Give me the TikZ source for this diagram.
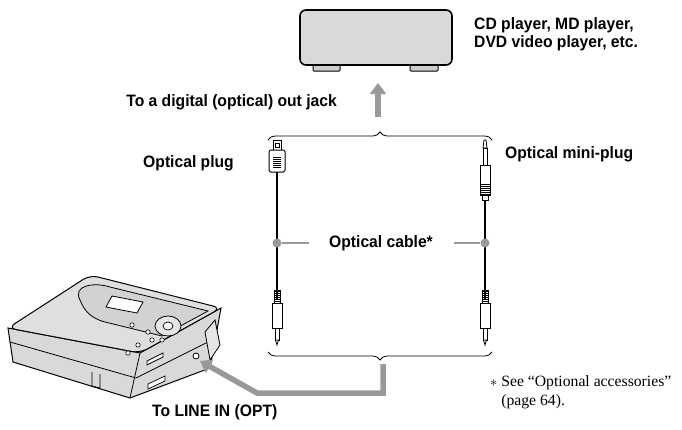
\documentclass[tikz,border=0pt]{standalone}
\usepackage{fontspec}
\setmainfont{Liberation Serif}
\newfontfamily\lbl[FakeStretch=0.95]{Liberation Sans}
\usetikzlibrary{decorations.pathreplacing,arrows.meta}
\begin{document}
\begin{tikzpicture}[x=1pt,y=-1pt,
  lab/.style={font=\lbl\bfseries\fontsize{16.5}{18}\selectfont,inner sep=0pt},
  fn/.style={font=\fontsize{15.7}{19}\selectfont,inner sep=0pt,align=left},
  brace/.style={decorate,decoration={brace,amplitude=8pt},line width=0.8pt},
  garrow/.style={draw=gray!80,line width=5.5pt},
  cable/.style={line width=2.8pt},
  dot/.style={circle,fill=gray!80,inner sep=0pt,minimum size=9pt},
  lead/.style={draw=gray!80,line width=2.2pt}]
\useasboundingbox (0,0) rectangle (682,429);
% CD player
\fill[gray!40,draw=black,line width=1pt,rounded corners=1pt] (313,63) rectangle (340,71);
\fill[gray!40,draw=black,line width=1pt,rounded corners=1pt] (410,63) rectangle (438,71);
\draw[line width=1.6pt,fill=gray!30,rounded corners=6pt] (300,10) rectangle (452,65);
\node[lab,anchor=north west,align=left] (cdt) at (474,17) {CD player, MD player,\\DVD video player, etc.};
% up arrow
\coordinate (ua) at (378,117);
\coordinate (ub) at (378,83);
\draw[garrow,-{Triangle[length=11pt,width=16pt]}] (ua) -- (ub);
\node[lab,anchor=east] (dig) at (337,102) {To a digital (optical) out jack};
% top brace
\coordinate (tb1) at (268,140);
\coordinate (tb2) at (492,140);
\draw[brace] (tb1) -- (tb2);
% left cable
\coordinate (lc1) at (277,172);
\coordinate (lc2) at (277,300);
\draw[cable] (lc1) -- (lc2);
\draw[fill=white,line width=1pt] (273,140) rectangle (281,150);
\draw[line width=0.6pt] (275,143) rectangle (279,147);
\draw[fill=white,line width=1pt,rounded corners=1.5pt] (269,150) rectangle (285,172);
\foreach \y in {157,159,...,167} \draw[line width=0.5pt] (273,\y) -- (281,\y);
% right cable
\coordinate (rc1) at (485,198);
\coordinate (rc2) at (485,300);
\draw[cable] (rc1) -- (rc2);
\draw[fill=white,line width=0.8pt] (484,140) -- (486,140) -- (487,148) -- (483,148) -- cycle;
\draw[fill=white,line width=0.8pt] (483,148) rectangle (487,165);
\draw[fill=white,line width=1pt] (480,165) rectangle (490,195);
\foreach \y in {184,186,...,194} \draw[line width=0.5pt] (480,\y) -- (490,\y);
\draw[fill=white,line width=0.8pt] (482,195) rectangle (488,200);
% bottom plugs
\foreach \x in {277,485}{
  \foreach \y in {291,293,...,301} \draw[line width=0.5pt] (\x-3,\y) -- (\x+3,\y);
  \draw[line width=0.8pt] (\x-3,290) rectangle (\x+3,303);
  \draw[fill=white,line width=1pt] (\x-5,303) rectangle (\x+5,328);
  \draw[fill=white,line width=0.8pt] (\x-2,328) rectangle (\x+2,340);
  \draw[fill=white,line width=0.8pt] (\x-1.5,340) -- (\x+1.5,340) -- (\x,345) -- cycle;
}
\node[lab,anchor=east] (op) at (234,163) {Optical plug};
\node[lab,anchor=west] (omp) at (505,154) {Optical mini-plug};
% optical cable label
\node[lab] (oc) at (381,243) {Optical cable*};
\node[dot] (d1) at (277,243) {};
\node[dot] (d2) at (485,243) {};
\coordinate (l1) at (309,243);
\coordinate (l2) at (454,243);
\draw[lead] (d1) -- (l1);
\draw[lead] (d2) -- (l2);
% bottom brace
\coordinate (bb1) at (492,352);
\coordinate (bb2) at (268,352);
\draw[brace] (bb1) -- (bb2);
% MD player
\fill[gray!30,draw=black,line width=1pt] (8,328) -- (13,362) -- (130,398) -- (210,368) -- (221,308) -- (140,353) -- cycle;
\draw[line width=0.8pt] (10,342) -- (136,378) -- (216,338);
\draw[line width=0.8pt] (140,353) -- (130,398);
\fill[gray!25,draw=black,line width=1pt,rounded corners=8pt] (8,328) -- (90,275) -- (221,308) -- (140,353) -- cycle;
\draw[fill=gray!35,line width=0.8pt] (80,300) .. controls (72,285) and (95,282) .. (110,287) -- (208,311) -- (162,336) -- (105,322) .. controls (90,318) and (84,310) .. (80,300);
\draw[fill=white,line width=0.8pt] (112,296) -- (143,302) -- (137,313) -- (106,307) -- cycle;
\draw[fill=gray!20,line width=0.8pt] (168,326) ellipse (13pt and 10pt);
\draw[fill=white,line width=0.7pt] (168,326) ellipse (5pt and 4pt);
\foreach \p in {(132,325),(148,332),(162,340),(138,345),(152,340),(128,353)}
  \draw[fill=white,line width=0.6pt] \p circle (2.2pt);
\draw[fill=gray!20,line width=0.8pt] (205,332) -- (215,320) -- (220,345) -- (210,360) -- cycle;
\draw[fill=white,line width=0.8pt] (196,356) circle (3pt);
\draw[fill=white,line width=0.7pt] (147,361) -- (163,353) -- (163,357) -- (147,365) -- cycle;
\draw[fill=white,line width=0.7pt] (148,384) -- (165,376) -- (165,381) -- (148,389) -- cycle;
\draw[line width=0.7pt] (92,372) -- (92,386) -- (100,388) -- (100,374);
% jack & arrow
\coordinate (jack) at (200,361);
\coordinate (g1) at (383,364);
\coordinate (g2) at (383,393);
\coordinate (g3) at (257,393);
\draw[garrow,line join=miter,-{Triangle[length=11pt,width=15pt]}] (g1) -- (g2) -- (g3) -- (jack);
\node[lab,anchor=west] (li) at (152,412) {To LINE IN (OPT)};
\node[fn,anchor=north west] (fnt) at (490,375) {$*$ See “Optional accessories”\\\hphantom{$*$ }(page 64).};
\end{tikzpicture}
\end{document}
